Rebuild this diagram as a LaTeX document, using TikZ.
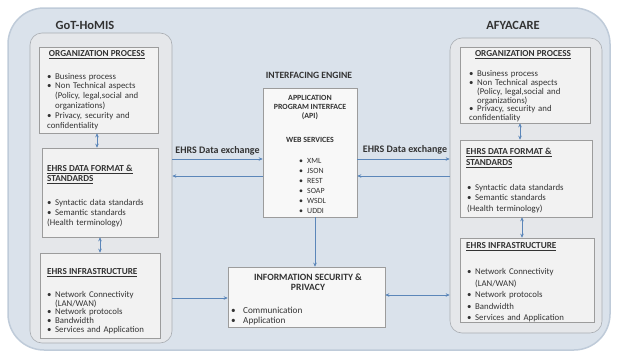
\documentclass[tikz,border=0pt]{standalone}
\usepackage{fontspec}
\setmainfont{Carlito}
\usetikzlibrary{arrows.meta,fit}
\definecolor{bgblue}{HTML}{DAE2EB}
\definecolor{bgedge}{HTML}{BFCBD9}
\definecolor{panelc}{HTML}{E5E7EA}
\definecolor{paneledge}{HTML}{A9ADB2}
\definecolor{boxc}{HTML}{F2F2F2}
\definecolor{boxedge}{HTML}{9C9C9C}
\definecolor{apic}{HTML}{F8F8F8}
\definecolor{arrowc}{HTML}{5B86B9}
\definecolor{txtc}{HTML}{333333}
\newlength\bind
\setlength\bind{8pt}
\newcommand\fstrut{\rule{0pt}{6.5pt}}
\newcommand\bitem[1]{\par\noindent\hangindent=\bind\hangafter=1\fstrut\hbox to\bind{\textbullet\hfil}#1}
\newcommand\plainline[1]{\par\noindent\fstrut#1}
\tikzset{
  panelbox/.style={draw=paneledge, fill=panelc, rounded corners=12pt, line width=0.6pt, inner sep=0pt},
  infobox/.style={draw=boxedge, fill=boxc, line width=0.5pt, inner sep=0pt},
  titletxt/.style={inner sep=0pt, font=\fontsize{9.2}{10.5}\selectfont\bfseries, text=txtc},
  listtxt/.style={anchor=north west, inner sep=0pt, text width=#1, align=left, text=txtc},
  conn/.style={draw=arrowc, line width=0.8pt, -{Stealth[length=4pt,width=3.5pt]}},
  dconn/.style={draw=arrowc, line width=0.8pt, {Stealth[length=4pt,width=3.5pt]}-{Stealth[length=4pt,width=3.5pt]}},
  paneltitle/.style={inner sep=0pt, font=\fontsize{12.5}{14}\selectfont\bfseries, text=txtc},
}
\begin{document}
\begin{tikzpicture}[x=1pt,y=-1pt]
\useasboundingbox (0,0) rectangle (617,356);
% outer background
\node[fill=bgblue, draw=bgedge, line width=1.5pt, rounded corners=36pt, inner sep=0pt, fit={(8,8) (610,350)}] (outer) {};

% panels
\node[panelbox, fit={(30,33) (172,343)}] (lpanel) {};
\node[panelbox, fit={(450,38) (602,333)}] (rpanel) {};
\node[paneltitle] (ltitle) at (85,25) {GoT-HoMIS};
\node[paneltitle] (rtitle) at (513,25) {AFYACARE};

% ---------- left boxes ----------
\node[infobox, fit={(39,47) (158,133)}] (lorg) {};
\node[titletxt] (lorgt) at (97,55) {\underline{ORGANIZATION PROCESS}};
\node[listtxt=112pt, font=\fontsize{8.8}{9.8}\selectfont] (lorgl) at (47,69) {%
\bitem{Business process}
\bitem{Non Technical aspects\newline (Policy, legal,social and\newline organizations)}
\bitem{Privacy, security and\newline confidentiality}};

\node[infobox, fit={(42,148) (158,237)}] (ldata) {};
\node[titletxt, anchor=west, align=left] (ldatat) at (47,174.5) {\underline{EHRS DATA FORMAT \&}\\\underline{STANDARDS}};
\node[listtxt=112pt, font=\fontsize{8.8}{10}\selectfont] (ldatal) at (47,195) {%
\bitem{Syntactic data standards}
\bitem{Semantic standards}
\plainline{(Health terminology)}};

\node[infobox, fit={(40,253) (160,338)}] (linfra) {};
\node[titletxt, anchor=west] (linfrat) at (47,273) {\underline{EHRS INFRASTRUCTURE}};
\node[listtxt=112pt, font=\fontsize{8.8}{8.9}\selectfont] (linfral) at (47,288) {%
\bitem{Network Connectivity\newline (LAN/WAN)}
\bitem{Network protocols}
\bitem{Bandwidth}
\bitem{Services and Application}};

% ---------- right boxes ----------
\node[infobox, fit={(460,47) (590,123)}] (rorg) {};
\node[titletxt] (rorgt) at (523,55) {\underline{ORGANIZATION PROCESS}};
\node[listtxt=120pt, font=\fontsize{8.8}{8.7}\selectfont] (rorgl) at (469,68) {%
\bitem{Business process}
\bitem{Non Technical aspects\newline (Policy, legal,social and\newline organizations)}
\bitem{Privacy, security and\newline confidentiality}};

\node[infobox, fit={(460,140) (592,217)}] (rdata) {};
\node[titletxt, anchor=west, align=left] (rdatat) at (466,158) {\underline{EHRS DATA FORMAT \&}\\\underline{STANDARDS}};
\node[listtxt=120pt, font=\fontsize{8.8}{10.8}\selectfont] (rdatal) at (467,179) {%
\bitem{Syntactic data standards}
\bitem{Semantic standards}
\plainline{(Health terminology)}};

\node[infobox, fit={(460,238) (594,322)}] (rinfra) {};
\node[titletxt, anchor=west] (rinfrat) at (466,247) {\underline{EHRS INFRASTRUCTURE}};
\node[listtxt=120pt, font=\fontsize{8.8}{11.5}\selectfont] (rinfral) at (467,263) {%
\bitem{Network Connectivity\newline (LAN/WAN)}
\bitem{Network protocols}
\bitem{Bandwidth}
\bitem{Services and Application}};

% ---------- interfacing engine ----------
\node[titletxt, font=\fontsize{9.6}{11}\selectfont\bfseries] (ietitle) at (309,75) {INTERFACING ENGINE};
\node[draw=boxedge, fill=apic, line width=0.5pt, inner sep=0pt, fit={(263,88) (357,217)}] (api) {};
\node[titletxt, align=center, font=\fontsize{7.9}{9}\selectfont\bfseries] (apit) at (310,108) {APPLICATION\\PROGRAM INTERFACE\\(API)};
\node[titletxt, font=\fontsize{7.9}{9}\selectfont\bfseries] (wst) at (310,140) {WEB SERVICES};
\node[listtxt=50pt, font=\fontsize{7.9}{10}\selectfont] (apil) at (299,153) {%
\bitem{XML}
\bitem{JSON}
\bitem{REST}
\bitem{SOAP}
\bitem{WSDL}
\bitem{UDDI}};

% ---------- information security ----------
\node[infobox, fill=boxc!60!white, fit={(228,267) (385,327)}] (info) {};
\node[titletxt, align=center, font=\fontsize{9.6}{10.5}\selectfont\bfseries] (infot) at (308,282) {INFORMATION SECURITY \&\\PRIVACY};
\node[listtxt=100pt, font=\fontsize{9.2}{10}\selectfont, /utils/exec={\setlength\bind{12pt}}] (infol) at (231,303) {%
\bitem{Communication}
\bitem{Application}};

% ---------- labels ----------
\node[titletxt, font=\fontsize{10}{11}\selectfont\bfseries] (lx) at (217.5,151) {EHRS Data exchange};
\node[titletxt, font=\fontsize{10}{11}\selectfont\bfseries] (rx) at (405,150) {EHRS Data exchange};

% ---------- connectors ----------
\coordinate (yup) at (0,159);
\coordinate (ylo) at (0,176);
\coordinate (yli) at (0,298);
\coordinate (yri) at (0,295);
\coordinate (xl1) at (97,0);
\coordinate (xl2) at (100,0);
\coordinate (xr1) at (520,0);
\coordinate (xr2) at (522,0);
\coordinate (xapi) at (315,0);

\draw[conn] (lpanel.east |- yup) -- (api.west |- yup);
\draw[conn] (api.west |- ylo) -- (lpanel.east |- ylo);
\draw[conn] (api.east |- yup) -- (rpanel.west |- yup);
\draw[conn] (rpanel.west |- ylo) -- (api.east |- ylo);

\draw[conn] (api.south -| xapi) -- (info.north -| xapi);
\draw[conn] (lpanel.east |- yli) -- (info.west |- yli);
\draw[dconn] (info.east |- yri) -- (rpanel.west |- yri);

\draw[dconn] (lorg.south -| xl1) -- (ldata.north -| xl1);
\draw[dconn] (ldata.south -| xl2) -- (linfra.north -| xl2);
\draw[dconn] (rorg.south -| xr1) -- (rdata.north -| xr1);
\draw[dconn] (rdata.south -| xr2) -- (rinfra.north -| xr2);
\end{tikzpicture}
\end{document}
